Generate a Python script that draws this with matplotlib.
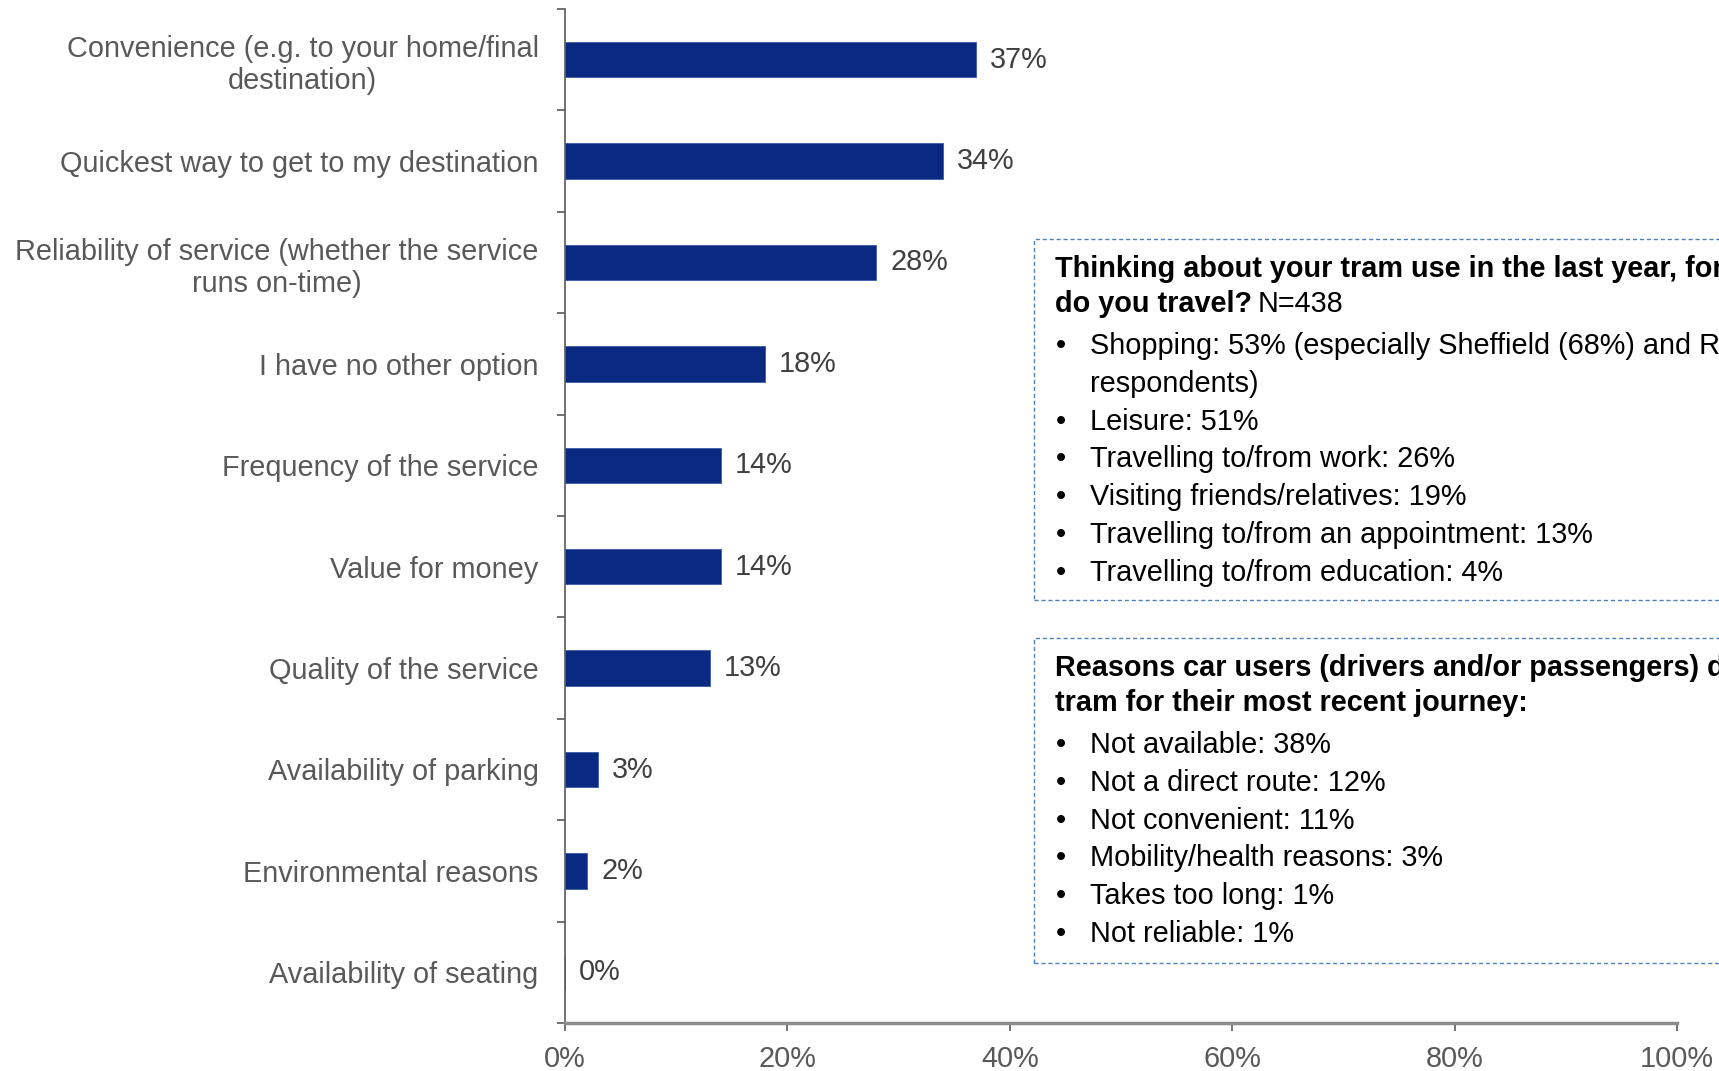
import matplotlib
matplotlib.use("Agg")
import matplotlib.pyplot as plt
from matplotlib.patches import Rectangle
from matplotlib.ticker import FixedLocator, PercentFormatter

plt.rcParams['font.family'] = ['Liberation Sans', 'DejaVu Sans']

# reasons for choosing the tram, % of respondents
reasons = [
    "Convenience (e.g. to your home/final\ndestination)",
    "Quickest way to get to my destination",
    "Reliability of service (whether the service\nruns on-time)",
    "I have no other option",
    "Frequency of the service",
    "Value for money",
    "Quality of the service",
    "Availability of parking",
    "Environmental reasons",
    "Availability of seating",
]
shares = [37, 34, 28, 18, 14, 14, 13, 3, 2, 0]

purpose_title = ["Thinking about your tram use in the last year, for which",
                 "do you travel?"]
purpose_n = "N=438"
purposes = [
    "Shopping: 53% (especially Sheffield (68%) and Rother\nrespondents)",
    "Leisure: 51%",
    "Travelling to/from work: 26%",
    "Visiting friends/relatives: 19%",
    "Travelling to/from an appointment: 13%",
    "Travelling to/from education: 4%",
]

car_title = ["Reasons car users (drivers and/or passengers) did",
             "tram for their most recent journey:"]
car_reasons = [
    "Not available: 38%",
    "Not a direct route: 12%",
    "Not convenient: 11%",
    "Mobility/health reasons: 3%",
    "Takes too long: 1%",
    "Not reliable: 1%",
]

W, H = 1719, 1071
fig = plt.figure(figsize=(W / 100, H / 100), dpi=100)
ax = fig.add_axes([565 / W, 1 - 1023 / H, (1677 - 565) / W, (1023 - 9) / H])

navy = '#0a2a82'
grey = '#595959'
fs = 20.8

pos = list(range(len(reasons)))
bars = ax.barh(pos, shares, height=0.35, color=navy, edgecolor='#3a5aa8', linewidth=0.6)
for b, v in zip(bars, shares):
    ax.annotate(f"{v}%", (b.get_width(), b.get_y() + b.get_height() / 2),
                xytext=(10, 0), textcoords='offset points', va='center', ha='left',
                fontsize=fs, color='#404040')

ax.set_ylim(len(reasons) - 0.5, -0.5)
ax.set_xlim(0, 100)
ax.set_yticks(pos)
ax.set_yticklabels(reasons, fontsize=fs, color=grey, multialignment='center',
                   linespacing=1.2)
ax.tick_params(axis='y', which='major', length=0, pad=19)
ax.yaxis.set_minor_locator(FixedLocator([p - 0.5 for p in range(len(reasons) + 1)]))
ax.tick_params(axis='y', which='minor', length=6, width=1.2, color='#595959')

ax.set_xticks([0, 20, 40, 60, 80, 100])
ax.xaxis.set_major_formatter(PercentFormatter(decimals=0))
ax.tick_params(axis='x', length=6, width=1.2, color='#595959', labelsize=fs,
               labelcolor=grey, pad=10)

for s in ['top', 'right']:
    ax.spines[s].set_visible(False)
ax.spines['left'].set_color('#595959')
ax.spines['left'].set_linewidth(1.2)
ax.spines['bottom'].set_color('#8c8c8c')
ax.spines['bottom'].set_linewidth(2.5)


def px(x, y):
    return x / W, 1 - y / H


def text_box(top, bottom, title, items, tail=None):
    box = Rectangle(px(1034, bottom), (W - 1034 + 40) / W, (bottom - top) / H,
                    transform=fig.transFigure, fill=False, edgecolor='#4f81bd',
                    linewidth=1.0, linestyle=(0, (3, 2)), clip_on=False)
    fig.add_artist(box)
    y = top + 30
    last = None
    for line in title:
        last = fig.text(*px(1055, y), line, fontsize=fs, fontweight='bold',
                        color='black', va='center', ha='left')
        y += 35
    if tail:
        fig.canvas.draw()
        ext = last.get_window_extent()
        fig.text(ext.x1 / W + 6 / W, last.get_position()[1], tail, fontsize=fs,
                 color='black', va='center', ha='left')
    y += 7
    for item in items:
        lines = item.split('\n')
        fig.text(*px(1056, y), "\u2022", fontsize=fs, color='black', va='center', ha='left')
        for line in lines:
            fig.text(*px(1090, y), line, fontsize=fs, color='black', va='center', ha='left')
            y += 37.8


text_box(239, 600, purpose_title, purposes, tail=purpose_n)
text_box(638, 963, car_title, car_reasons)

fig.savefig("out.png", dpi=100)
